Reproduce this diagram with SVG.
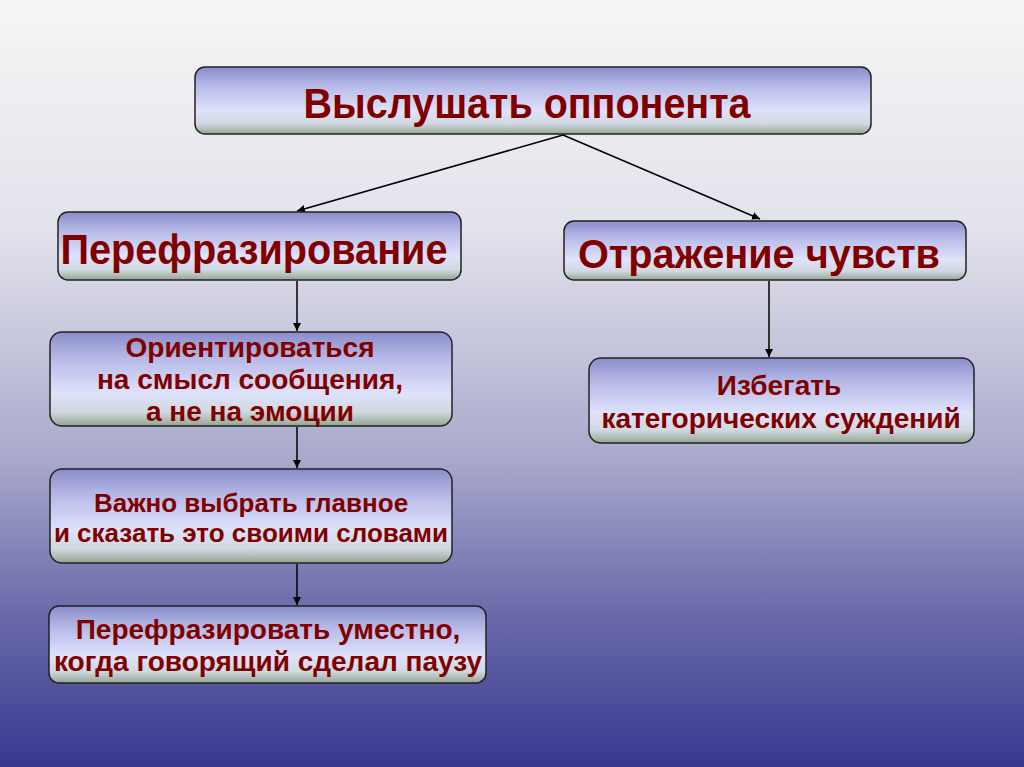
<svg xmlns="http://www.w3.org/2000/svg" width="1024" height="767" viewBox="0 0 1024 767">
<defs>
<linearGradient id="bg" x1="0" y1="0" x2="0" y2="1">
<stop offset="0" stop-color="#f6f6f6"/>
<stop offset="0.3" stop-color="#e2e2ec"/>
<stop offset="0.6" stop-color="#a8a8cc"/>
<stop offset="0.8" stop-color="#6a6aaa"/>
<stop offset="1" stop-color="#383890"/>
</linearGradient>
<linearGradient id="box" x1="0" y1="0" x2="0" y2="1">
<stop offset="0" stop-color="#8a8dca"/>
<stop offset="0.3" stop-color="#b9bce8"/>
<stop offset="0.65" stop-color="#dfe2fb"/>
<stop offset="0.85" stop-color="#d0d8e0"/>
<stop offset="1" stop-color="#93a693"/>
</linearGradient>
<marker id="arr" viewBox="0 0 10 10" refX="10" refY="5" markerWidth="8" markerHeight="8" markerUnits="userSpaceOnUse" orient="auto">
<path d="M0,0 L10,5 L0,10 z" fill="#000"/>
</marker>
</defs>
<style>
.b{fill:url(#box);stroke:#222;stroke-width:1.5}
.t{font-family:"Liberation Sans",Arial,sans-serif;font-weight:bold;fill:#800000;text-anchor:middle}
.c{stroke:#000;stroke-width:1.5;fill:none;marker-end:url(#arr)}
</style>
<rect width="1024" height="767" fill="url(#bg)"/>
<g id="connectors">
<line class="c" x1="563" y1="135" x2="297" y2="211"/>
<line class="c" x1="563" y1="135" x2="760" y2="219"/>
<line class="c" x1="297" y1="281" x2="297" y2="331"/>
<line class="c" x1="297" y1="427" x2="297" y2="468"/>
<line class="c" x1="297" y1="564" x2="297" y2="605"/>
<line class="c" x1="769" y1="281" x2="769" y2="357"/>
</g>
<g id="n1">
<rect class="b" x="195" y="67" width="676" height="67" rx="10"/>
<text class="t" x="527" y="118" font-size="42" textLength="447" lengthAdjust="spacingAndGlyphs">Выслушать оппонента</text>
</g>
<g id="n2">
<rect class="b" x="58" y="212" width="403" height="68" rx="10"/>
<text class="t" x="254" y="264" font-size="42" textLength="387" lengthAdjust="spacingAndGlyphs">Перефразирование</text>
</g>
<g id="n3">
<rect class="b" x="564" y="221" width="402" height="59" rx="10"/>
<text class="t" x="759" y="268" font-size="41" textLength="362" lengthAdjust="spacingAndGlyphs">Отражение чувств</text>
</g>
<g id="n4">
<rect class="b" x="50" y="332" width="402" height="94" rx="12"/>
<text class="t" x="250" y="357" font-size="28">Ориентироваться</text>
<text class="t" x="250" y="389" font-size="28">на смысл сообщения,</text>
<text class="t" x="250" y="421" font-size="28">а не на эмоции</text>
</g>
<g id="n5">
<rect class="b" x="589" y="358" width="385" height="85" rx="12"/>
<text class="t" x="779" y="395" font-size="28">Избегать</text>
<text class="t" x="781" y="428" font-size="28">категорических суждений</text>
</g>
<g id="n6">
<rect class="b" x="50" y="469" width="402" height="94" rx="12"/>
<text class="t" x="251" y="512" font-size="26">Важно выбрать главное</text>
<text class="t" x="251" y="542" font-size="26">и сказать это своими словами</text>
</g>
<g id="n7">
<rect class="b" x="49" y="606" width="437" height="77" rx="10"/>
<text class="t" x="268" y="639" font-size="28">Перефразировать уместно,</text>
<text class="t" x="268" y="671" font-size="28">когда говорящий сделал паузу</text>
</g>
</svg>
